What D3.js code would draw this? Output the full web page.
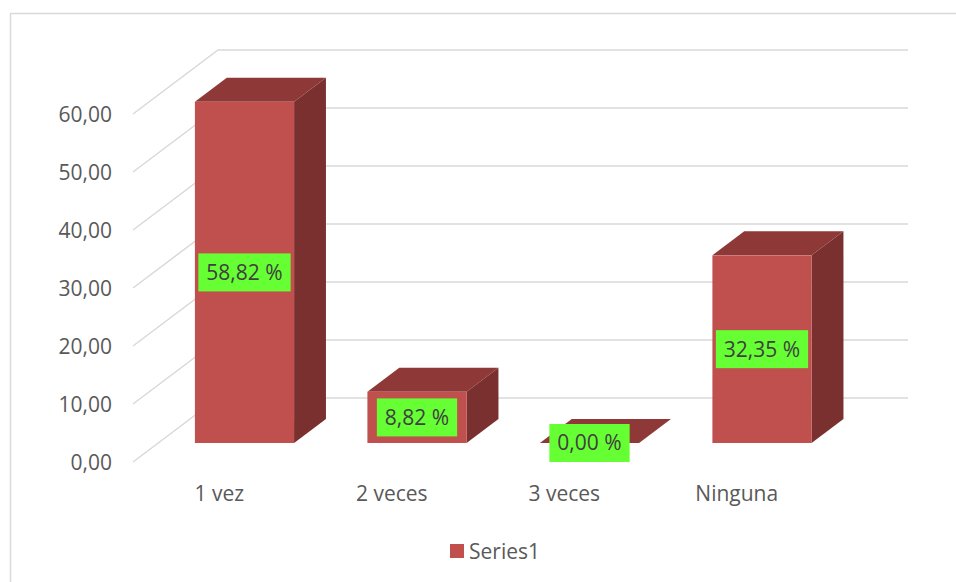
<!DOCTYPE html>
<html>
<head>
<meta charset="utf-8">
<script src="https://cdn.jsdelivr.net/npm/d3@7"></script>
<style>
  body { margin: 0; background: #fff; }
  svg { display: block; font-family: "Open Sans", sans-serif; }
</style>
</head>
<body>
<svg id="chart" width="956" height="582"></svg>
<script>
const categories = ['1 vez', '2 veces', '3 veces', 'Ninguna'];
const values = [58.82, 8.82, 0.00, 32.35];
const yTicks = [0, 10, 20, 30, 40, 50, 60];
const seriesName = 'Series1';

const svg = d3.select('#chart');

// oblique 3d: front floor, depth offset
const floorY = 462, depthX = 85, depthY = -64;
const barT0 = 0.297, barT1 = 0.672;

const x = d3.scaleBand().domain(categories).range([133, 823])
  .paddingInner(0.425).paddingOuter(0.2125);
const xCat = d3.scaleBand().domain(categories).range([133, 823]);
const y = d3.scaleLinear().domain([0, 60]).range([0, 348]);

const fmt = v => d3.format('.2f')(v).replace('.', ',');

function pt(px, v, t) {
  return [px + depthX * t, floorY - y(v) + depthY * t];
}

// chart border
svg.append('rect')
  .attr('x', 10.5).attr('y', 13.5)
  .attr('width', 1000).attr('height', 600)
  .attr('fill', 'none').attr('stroke', '#d9d9d9').attr('stroke-width', 1.5);

// gridlines: side wall diagonals + back wall
const grid = svg.append('g').attr('stroke', '#d9d9d9').attr('stroke-width', 1.5).attr('fill', 'none');
yTicks.forEach(v => {
  const a = pt(133, v, 0), b = pt(133, v, 1), c = pt(823, v, 1);
  grid.append('path').attr('d', d3.line()([a, b, c]));
});

// y labels
svg.append('g').selectAll('text').data(yTicks).enter().append('text')
  .attr('x', 112)
  .attr('y', d => floorY - y(d) + 7.5)
  .attr('text-anchor', 'end')
  .attr('fill', '#595959')
  .attr('font-size', 21)
  .text(d => fmt(d));

// category labels
svg.append('g').selectAll('text').data(categories).enter().append('text')
  .attr('x', d => xCat(d) + xCat.bandwidth() / 2)
  .attr('y', 501)
  .attr('text-anchor', 'middle')
  .attr('fill', '#595959')
  .attr('font-size', 21)
  .text(d => d);

// bars
const bars = svg.append('g');
categories.forEach((c, i) => {
  const v = values[i];
  const x0 = x(c), x1 = x(c) + x.bandwidth();
  const g = bars.append('g');
  // top
  g.append('path')
    .attr('d', d3.line()([pt(x0, v, barT0), pt(x1, v, barT0), pt(x1, v, barT1), pt(x0, v, barT1)]) + 'Z')
    .attr('fill', '#8e3937');
  // side + front
  if (v > 0) {
    g.append('path')
      .attr('d', d3.line()([pt(x1, 0, barT0), pt(x1, v, barT0), pt(x1, v, barT1), pt(x1, 0, barT1)]) + 'Z')
      .attr('fill', '#7b3030');
    const f0 = pt(x0, v, barT0), f1 = pt(x1, 0, barT0);
    g.append('rect')
      .attr('x', f0[0]).attr('y', f0[1])
      .attr('width', f1[0] - f0[0]).attr('height', f1[1] - f0[1])
      .attr('fill', '#c0504d');
  }
});

// data labels
const labels = svg.append('g');
categories.forEach((c, i) => {
  const v = values[i];
  const cx = pt(x(c) + x.bandwidth() / 2, 0, barT0)[0];
  const cy = (pt(0, v, barT0)[1] + pt(0, 0, barT0)[1]) / 2;
  const t = labels.append('text')
    .attr('x', cx).attr('y', cy + 7.5)
    .attr('text-anchor', 'middle')
    .attr('fill', '#404040')
    .attr('font-size', 21)
    .text(fmt(v) + ' %');
  const w = t.node().getComputedTextLength() + 16;
  labels.insert('rect', 'text')
    .attr('x', cx - w / 2).attr('y', cy - 19)
    .attr('width', w).attr('height', 38)
    .attr('fill', '#66ff33');
});
labels.selectAll('text').raise();

// legend
const leg = svg.append('g');
leg.append('rect').attr('x', 450).attr('y', 544).attr('width', 14).attr('height', 14).attr('fill', '#c0504d');
leg.append('text').attr('x', 469).attr('y', 558.5).attr('fill', '#595959').attr('font-size', 21).text(seriesName);
</script>
</body>
</html>
